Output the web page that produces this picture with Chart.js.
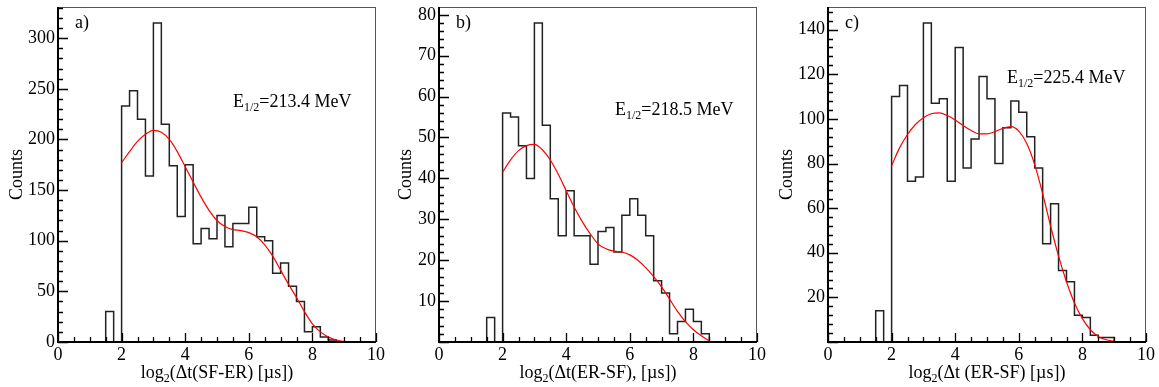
<!DOCTYPE html>
<html>
<head>
<meta charset="utf-8">
<script src="https://cdn.jsdelivr.net/npm/chart.js@4.4.0/dist/chart.umd.min.js"></script>
<style>
body{margin:0;background:#fff;width:1159px;height:387px;position:relative;overflow:hidden}
canvas{position:absolute;top:0}
</style>
</head>
<body>
<canvas id="ca" width="385" height="387" style="left:0"></canvas>
<canvas id="cb" width="385" height="387" style="left:385px"></canvas>
<canvas id="cc" width="389" height="387" style="left:770px"></canvas>
<script>
// lower bin edges, width 0.25, last upper edge 9
var binLow = [1.5,1.75,2,2.25,2.5,2.75,3,3.25,3.5,3.75,4,4.25,4.5,4.75,5,5.25,5.5,5.75,6,6.25,6.5,6.75,7,7.25,7.5,7.75,8,8.25,8.5,8.75];
var binHigh = 9;

var countsA = [30,0,233,248,220,164,315,215,174,124,175,97,112,102,125,94,117,117,133,104,100,68,78,55,40,10,15,5,2,0];
var countsB = [6,0,56,55,48,40,78,53,35,26,37,26,26,19,27,28,22,31,35,31,26,15,12,2,5,8,5,2,0,0];
var countsC = [14,0,110,115,72,74,143,107,109,72,132,78,91,119,109,80,96,108,103,92,78,44,62,32,27,12,11,3,2,2];

// fit curves
var fitX = [2,2.25,2.5,2.75,3,3.25,3.5,3.75,4,4.25,4.5,4.75,5,5.25,5.5,5.75,6,6.25,6.5,6.75,7,7.25,7.5,7.75,8,8.25,8.5,8.75,9];
var fitA = [177,188,198,205,209,207,200,188,173,158,143,130,120,114,111,110,108,104,96,85,71,57,44,30,18,10,5,2,0.5];
var fitB = [41.5,44.5,46.8,48,48.3,47,44.5,41,37,33,29.5,26.5,24,22.8,22.2,22,21.3,20,18.2,16,13.5,10.5,7.5,5,3,1.5,0.3];
var fitC = [79,87,93,97.5,100.5,102.3,102.7,101.5,99.5,97,94.8,93.3,93.3,94.3,95.8,96.5,94.5,89,79.5,66.5,52,38.5,27,17.5,10.5,5.5,2.5,1,0.3];

var xTicks = [0,2,4,6,8,10];
var yTicksA = [0,50,100,150,200,250,300];
var yTicksB = [10,20,30,40,50,60,70,80];
var yTicksC = [20,40,60,80,100,120,140];

var FONT = '"Liberation Serif", "Times New Roman", serif';

function histPoints(counts) {
    var pts = [{x: binLow[0], y: 0}];
    for (var i = 0; i < counts.length; i++) pts.push({x: binLow[i], y: counts[i]});
    pts.push({x: binHigh, y: 0});
    return pts;
}
function fitPoints(vals) {
    var pts = [];
    for (var i = 0; i < vals.length; i++) pts.push({x: fitX[i], y: vals[i]});
    return pts;
}

// draws text pieces, some as subscript
function drawParts(ctx, parts, x, y, align) {
    var big = '18px ' + FONT, small = '12px ' + FONT;
    var w = 0;
    parts.forEach(function (p) { ctx.font = p.sub ? small : big; w += ctx.measureText(p.t).width; });
    var cx = align === 'center' ? x - w / 2 : x;
    ctx.textAlign = 'left';
    ctx.textBaseline = 'alphabetic';
    parts.forEach(function (p) {
        ctx.font = p.sub ? small : big;
        ctx.fillText(p.t, cx, p.sub ? y + 4 : y);
        cx += ctx.measureText(p.t).width;
    });
}

var rootStyle = {
    id: 'rootStyle',
    afterDraw: function (chart, args, o) {
        var ctx = chart.ctx, a = chart.chartArea;
        var xs = chart.scales.x, ys = chart.scales.y;
        ctx.save();
        ctx.strokeStyle = '#555';
        ctx.lineWidth = 1;
        ctx.strokeRect(a.left, a.top + 0.5, a.right - a.left - 0.5, a.bottom - a.top);
        ctx.strokeStyle = '#000';
        ctx.lineWidth = 2;
        ctx.beginPath();
        ctx.moveTo(a.left, a.top);
        ctx.lineTo(a.left, a.bottom);
        ctx.lineTo(a.right, a.bottom);
        ctx.stroke();

        ctx.lineWidth = 1.3;
        ctx.beginPath();
        var v, p, major;
        for (v = 0; v <= xs.max + 1e-9; v += o.xMinor) {
            major = Math.abs(v / o.xMajor - Math.round(v / o.xMajor)) < 1e-6;
            p = Math.round(xs.getPixelForValue(v)) + 0.5;
            ctx.moveTo(p, a.bottom);
            ctx.lineTo(p, a.bottom - (major ? 9 : 5));
        }
        for (v = 0; v <= ys.max + 1e-9; v += o.yMinor) {
            major = Math.abs(v / o.yMajor - Math.round(v / o.yMajor)) < 1e-6;
            p = Math.round(ys.getPixelForValue(v)) + 0.5;
            ctx.moveTo(a.left, p);
            ctx.lineTo(a.left + (major ? 10 : 5), p);
        }
        ctx.stroke();

        ctx.fillStyle = '#000';
        ctx.font = '18px ' + FONT;
        ctx.textAlign = 'left';
        ctx.textBaseline = 'alphabetic';
        ctx.fillText(o.tag, a.left + 17, a.top + 21);

        drawParts(ctx, [{t: 'E'}, {t: '1/2', sub: true}, {t: '=' + o.energy + ' MeV'}], o.noteX, o.noteY, 'left');
        drawParts(ctx, [{t: 'log'}, {t: '2', sub: true}, {t: o.xTitle}], (a.left + a.right) / 2, 378, 'center');

        ctx.save();
        ctx.translate(o.yTitleX, (a.top + a.bottom) / 2);
        ctx.rotate(-Math.PI / 2);
        ctx.font = '18px ' + FONT;
        ctx.textAlign = 'center';
        ctx.textBaseline = 'middle';
        ctx.fillText('Counts', 0, 0);
        ctx.restore();
        ctx.restore();
    }
};

function makePanel(id, counts, fit, yMax, yTicks, left, right, st) {
    new Chart(document.getElementById(id), {
        type: 'line',
        data: {
            datasets: [{
                data: fitPoints(fit),
                borderColor: '#ff0000',
                borderWidth: 1.2,
                pointRadius: 0,
                cubicInterpolationMode: 'monotone',
                order: 0
            }, {
                data: histPoints(counts),
                borderColor: '#222',
                borderWidth: 1.5,
                pointRadius: 0,
                stepped: 'before',
                order: 1
            }]
        },
        options: {
            responsive: false,
            animation: false,
            layout: {padding: {top: 7, right: right, left: 0, bottom: 0}},
            plugins: {legend: {display: false}, tooltip: {enabled: false}, rootStyle: st},
            scales: {
                x: {
                    type: 'linear', min: 0, max: 10,
                    grid: {display: false, tickLength: 0}, border: {display: false},
                    afterBuildTicks: function (s) { s.ticks = xTicks.map(function (t) { return {value: t}; }); },
                    afterFit: function (s) { s.height = 45; s.paddingLeft = 0; s.paddingRight = 0; },
                    ticks: {font: {family: FONT, size: 18}, color: '#000', padding: 2, maxRotation: 0}
                },
                y: {
                    min: 0, max: yMax,
                    grid: {display: false, tickLength: 0}, border: {display: false},
                    afterBuildTicks: function (s) { s.ticks = yTicks.map(function (t) { return {value: t}; }); },
                    afterFit: function (s) { s.width = left; s.paddingTop = 0; s.paddingBottom = 0; },
                    ticks: {font: {family: FONT, size: 18}, color: '#000', padding: 3}
                }
            }
        },
        plugins: [rootStyle]
    });
}

makePanel('ca', countsA, fitA, 330.75, yTicksA, 58, 9,
    {xMinor: 0.5, xMajor: 2, yMinor: 10, yMajor: 50, tag: 'a)', energy: '213.4', noteX: 233, noteY: 107, xTitle: '(\u0394t(SF-ER) [\u00b5s])', yTitleX: 17});
makePanel('cb', countsB, fitB, 81.9, yTicksB, 54, 13,
    {xMinor: 0.5, xMajor: 2, yMinor: 2, yMajor: 10, tag: 'b)', energy: '218.5', noteX: 230, noteY: 115, xTitle: '(\u0394t(ER-SF), [\u00b5s])', yTitleX: 21});
makePanel('cc', countsC, fitC, 150.15, yTicksC, 58, 13,
    {xMinor: 0.5, xMajor: 2, yMinor: 4, yMajor: 20, tag: 'c)', energy: '225.4', noteX: 237, noteY: 83, xTitle: '(\u0394t (ER-SF) [\u00b5s])', yTitleX: 17});
</script>
</body>
</html>
